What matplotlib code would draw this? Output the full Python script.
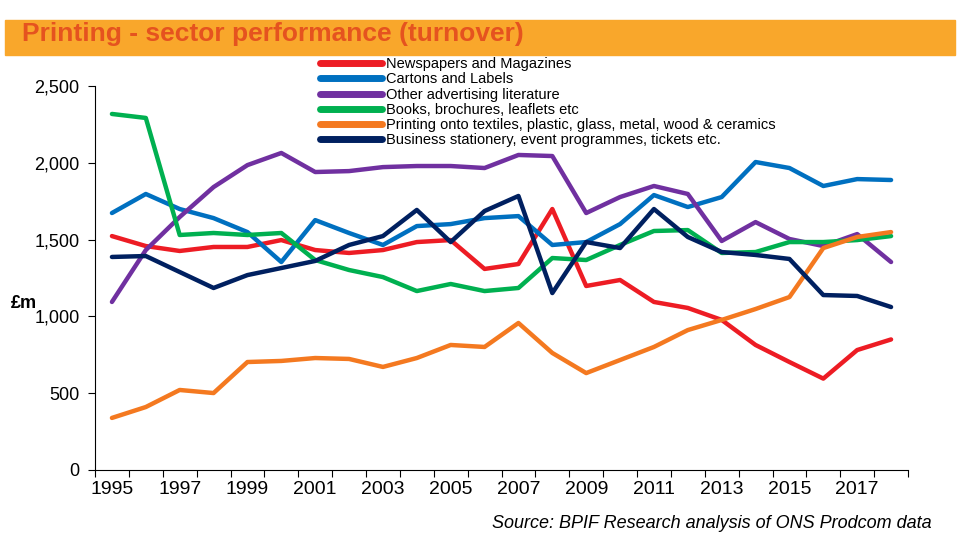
import matplotlib.pyplot as plt
from matplotlib.patches import Rectangle

years = list(range(1995, 2019))

newspapers = [1523, 1458, 1426, 1452, 1452, 1497, 1432, 1413, 1432, 1484, 1497, 1309,
              1341, 1699, 1198, 1237, 1094, 1055, 977, 814, 703, 595, 781, 850]
cartons = [1673, 1797, 1699, 1640, 1549, 1354, 1627, 1543, 1465, 1588, 1601, 1640,
           1653, 1465, 1484, 1601, 1790, 1712, 1777, 2005, 1966, 1849, 1894, 1888]
advertising = [1094, 1432, 1647, 1842, 1985, 2064, 1940, 1946, 1972, 1979, 1979, 1966,
               2051, 2044, 1673, 1777, 1849, 1797, 1491, 1614, 1504, 1458, 1536, 1354]
books = [2318, 2292, 1530, 1543, 1530, 1543, 1367, 1302, 1256, 1165, 1211, 1165,
         1185, 1380, 1367, 1465, 1556, 1562, 1413, 1419, 1484, 1484, 1497, 1523]
textiles = [339, 410, 521, 501, 703, 710, 729, 723, 671, 729, 814, 801,
            957, 762, 631, 716, 801, 911, 977, 1048, 1126, 1445, 1517, 1549]
business = [1387, 1393, 1289, 1185, 1269, 1315, 1361, 1465, 1523, 1693, 1484, 1686,
            1784, 1152, 1484, 1445, 1699, 1517, 1419, 1400, 1374, 1139, 1133, 1061]

series = [
    ("Newspapers and Magazines", newspapers, "#ED1C24"),
    ("Cartons and Labels", cartons, "#0070C0"),
    ("Other advertising literature", advertising, "#7030A0"),
    ("Books, brochures, leaflets etc", books, "#00B050"),
    ("Printing onto textiles, plastic, glass, metal, wood & ceramics", textiles, "#F47920"),
    ("Business stationery, event programmes, tickets etc.", business, "#002060"),
]

plt.rcParams['font.family'] = ['Liberation Sans', 'DejaVu Sans']

fig = plt.figure(figsize=(9.59, 5.39), dpi=100)

# title band
fig.patches.append(Rectangle((5 / 959, 1 - 55 / 539), 950 / 959, 35 / 539,
                             transform=fig.transFigure, color="#F9A72B", zorder=0))
fig.text(22 / 959, 1 - 34 / 539, "Printing - sector performance (turnover)",
         fontsize=19, fontweight='bold', color="#E5531F", va='center', ha='left')

ax = fig.add_axes([95 / 959, 1 - 470 / 539, 813 / 959, 384 / 539])
x = list(range(len(years)))
for name, vals, col in series:
    ax.plot(x, vals, color=col, lw=3.2, label=name, solid_capstyle='round')

ax.set_xlim(-0.5, len(years) - 0.5)
ax.set_ylim(0, 2500)
ax.set_yticks([0, 500, 1000, 1500, 2000, 2500])
ax.set_yticklabels(["0", "500", "1,000", "1,500", "2,000", "2,500"], fontsize=13)
ax.set_xticks([i - 0.5 for i in range(len(years) + 1)])
ax.set_xticklabels([])
ax.set_xticks(x[::2], minor=True)
ax.set_xticklabels([str(y) for y in years[::2]], minor=True, fontsize=14)
ax.tick_params(axis='x', which='minor', length=0, pad=8)
ax.tick_params(axis='x', which='major', length=5, direction='out')
ax.tick_params(axis='y', length=5, direction='out', pad=6)
for s in ['top', 'right']:
    ax.spines[s].set_visible(False)

# £m label sits left of the tick labels, just above 1,000
fig.text(24 / 959, 1 - 304 / 539, "£m", fontsize=13, fontweight='bold',
         ha='center', va='center')

leg = ax.legend(loc='upper left', bbox_to_anchor=(0.27, 1.09), frameon=False,
                fontsize=10.5, handlelength=4.2, handletextpad=0.3,
                labelspacing=0.08, borderaxespad=0)
for ln in leg.get_lines():
    ln.set_linewidth(5)

fig.text(932 / 959, 1 - 524 / 539, "Source: BPIF Research analysis of ONS Prodcom data",
         fontsize=13, style='italic', ha='right', va='center')

fig.savefig("out.png", dpi=100)
